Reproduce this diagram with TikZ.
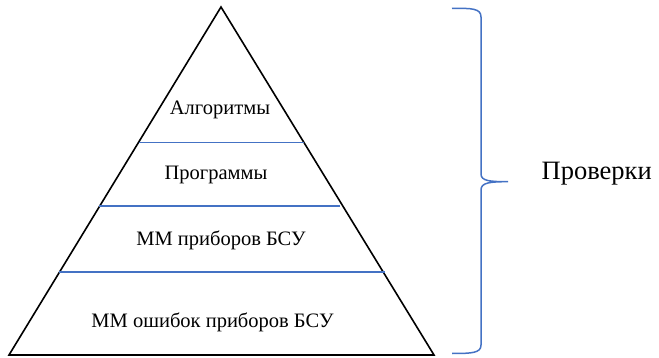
\documentclass[tikz,border=0pt]{standalone}
\usepackage{fontspec}
\setmainfont{Liberation Serif}
\definecolor{obl}{RGB}{68,114,196}
\begin{document}
\begin{tikzpicture}[x=1pt,y=-1pt,
  tri/.style={draw=black,line width=1.6pt,line join=miter},
  sep/.style={draw=obl,line width=1.5pt},
  lbl/.style={inner sep=0pt,anchor=base,font=\fontsize{20.5}{24}\selectfont},
  big/.style={inner sep=0pt,anchor=base west,font=\fontsize{26.5}{30}\selectfont}]
\useasboundingbox (0,0) rectangle (659,358);
\coordinate (apex) at (221,7);
\coordinate (bl) at (9,355);
\coordinate (br) at (434,355);
\draw[tri] (bl) -- (apex) -- (br) -- cycle;
\coordinate (s1l) at (139,142.5); \coordinate (s1r) at (304,142.5);
\coordinate (s2l) at (99,206);    \coordinate (s2r) at (340,206);
\coordinate (s3l) at (59,272);    \coordinate (s3r) at (385,272);
\draw[sep] (s1l) -- (s1r);
\draw[sep] (s2l) -- (s2r);
\draw[sep] (s3l) -- (s3r);
\node[lbl] (t1) at (220,114.5) {Алгоритмы};
\node[lbl] (t2) at (216,180) {Программы};
\node[lbl] (t3) at (221,246) {ММ приборов БСУ};
\node[lbl] (t4) at (212.5,327) {ММ ошибок приборов БСУ};
\draw[obl,line width=1.5pt]
  (452,8.5) .. controls (472,8) and (481,8.5) .. (481,17) -- (481,174)
  .. controls (481,181) and (490,181.7) .. (508,181.7)
  .. controls (490,181.7) and (481,182.5) .. (481,190) -- (481,345)
  .. controls (481,353) and (472,353.5) .. (452,353.5);
\coordinate (tip) at (508,181.7);
\node[big] (chk) at (541.5,180) {Проверки};
\end{tikzpicture}
\end{document}
